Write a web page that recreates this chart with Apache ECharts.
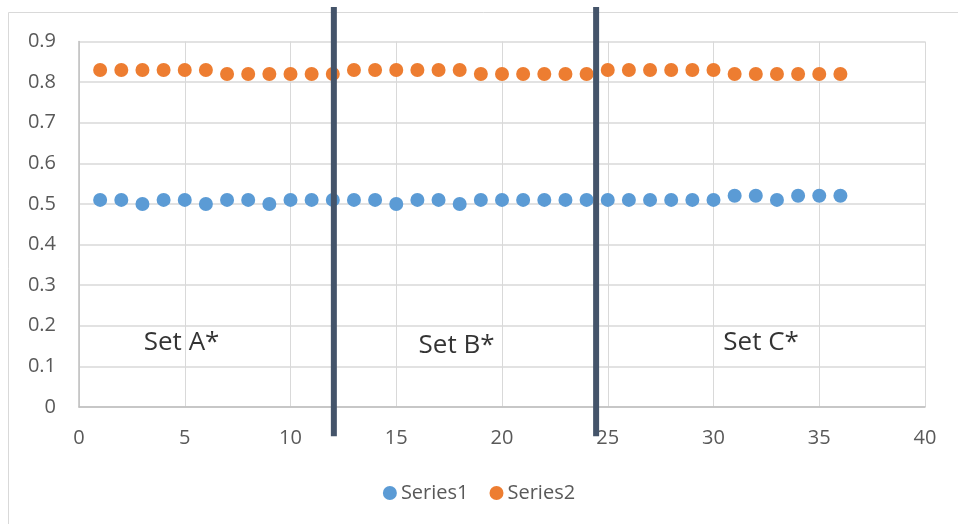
<!DOCTYPE html>
<html>
<head>
<meta charset="utf-8">
<script src="https://cdn.jsdelivr.net/npm/echarts@6/dist/echarts.min.js"></script>
<style>
  html, body { margin: 0; padding: 0; background: #fff; }
  #chart { width: 958px; height: 524px; }
</style>
</head>
<body>
<div id="chart"></div>
<script>
// Sample index (1..36)
const xValues = [1,2,3,4,5,6,7,8,9,10,11,12,13,14,15,16,17,18,19,20,21,22,23,24,25,26,27,28,29,30,31,32,33,34,35,36];

const series1Values = [0.51,0.51,0.50,0.51,0.51,0.50,0.51,0.51,0.50,0.51,0.51,0.51,
                       0.51,0.51,0.50,0.51,0.51,0.50,0.51,0.51,0.51,0.51,0.51,0.51,
                       0.51,0.51,0.51,0.51,0.51,0.51,0.52,0.52,0.51,0.52,0.52,0.52];

const series2Values = [0.83,0.83,0.83,0.83,0.83,0.83,0.82,0.82,0.82,0.82,0.82,0.82,
                       0.83,0.83,0.83,0.83,0.83,0.83,0.82,0.82,0.82,0.82,0.82,0.82,
                       0.83,0.83,0.83,0.83,0.83,0.83,0.82,0.82,0.82,0.82,0.82,0.82];

// Boundaries between the three sets
const setBoundaries = [12.05, 24.45];
const boundarySpan = [-0.072, 0.985];

// Set names and where they sit in data space
const setNames = ['Set A*', 'Set B*', 'Set C*'];
const setLabelX = [4.85, 17.85, 32.25];
const setLabelY = [0.159, 0.151, 0.159];

const xTicks = { min: 0, max: 40, interval: 5 };
const yTicks = { min: 0, max: 0.9, interval: 0.1 };

const FONT = '"Open Sans", sans-serif';
const chart = echarts.init(document.getElementById('chart'));

const pairs = vals => xValues.map((x, i) => [x, vals[i]]);

const boundarySeries = setBoundaries.map(bx => ({
  type: 'line',
  name: 'boundary',
  data: [[bx, boundarySpan[0]], [bx, boundarySpan[1]]],
  symbol: 'none',
  clip: false,
  silent: true,
  z: 5,
  lineStyle: { color: '#44546A', width: 6 }
}));

chart.setOption({
  animation: false,
  graphic: [{
    type: 'rect',
    shape: { x: 8.5, y: 12.5, width: 1000, height: 600 },
    style: { fill: 'none', stroke: '#D9D9D9', lineWidth: 1 },
    silent: true
  }],
  grid: { left: 79, right: 33, top: 41.5, bottom: 117 },
  legend: {
    bottom: 16,
    left: 'center',
    itemWidth: 14,
    itemHeight: 14,
    itemGap: 21,
    icon: 'circle',
    data: ['Series1', 'Series2'],
    textStyle: { fontFamily: FONT, fontSize: 20, color: '#595959', padding: [0, 0, 0, -1] }
  },
  xAxis: {
    type: 'value',
    min: xTicks.min, max: xTicks.max, interval: xTicks.interval,
    axisLine: { show: true, lineStyle: { color: '#BFBFBF', width: 1.5 } },
    axisTick: { show: false },
    splitLine: { show: true, lineStyle: { color: '#D9D9D9', width: 1 } },
    axisLabel: { fontFamily: FONT, fontSize: 20, color: '#595959', margin: 21 }
  },
  yAxis: {
    type: 'value',
    min: yTicks.min, max: yTicks.max, interval: yTicks.interval,
    axisLine: { show: true, lineStyle: { color: '#BFBFBF', width: 1.5 } },
    axisTick: { show: false },
    splitLine: { show: true, lineStyle: { color: '#D9D9D9', width: 1.5 } },
    axisLabel: {
      fontFamily: FONT, fontSize: 20, color: '#595959', margin: 23,
      formatter: v => String(Math.round(v * 10) / 10)
    }
  },
  series: [
    {
      type: 'scatter', name: 'Series1', data: pairs(series1Values),
      symbolSize: 14, itemStyle: { color: '#5B9BD5', opacity: 1 }, z: 3
    },
    {
      type: 'scatter', name: 'Series2', data: pairs(series2Values),
      symbolSize: 14, itemStyle: { color: '#ED7D31', opacity: 1 }, z: 3
    },
    ...boundarySeries,
    {
      type: 'scatter', name: 'sets', silent: true,
      data: setNames.map((n, i) => ({ name: n, value: [setLabelX[i], setLabelY[i]] })),
      symbolSize: 0,
      label: {
        show: true, position: 'inside', formatter: p => p.name,
        fontFamily: FONT, fontSize: 26, color: '#000'
      },
      z: 6
    }
  ]
});
</script>
</body>
</html>
